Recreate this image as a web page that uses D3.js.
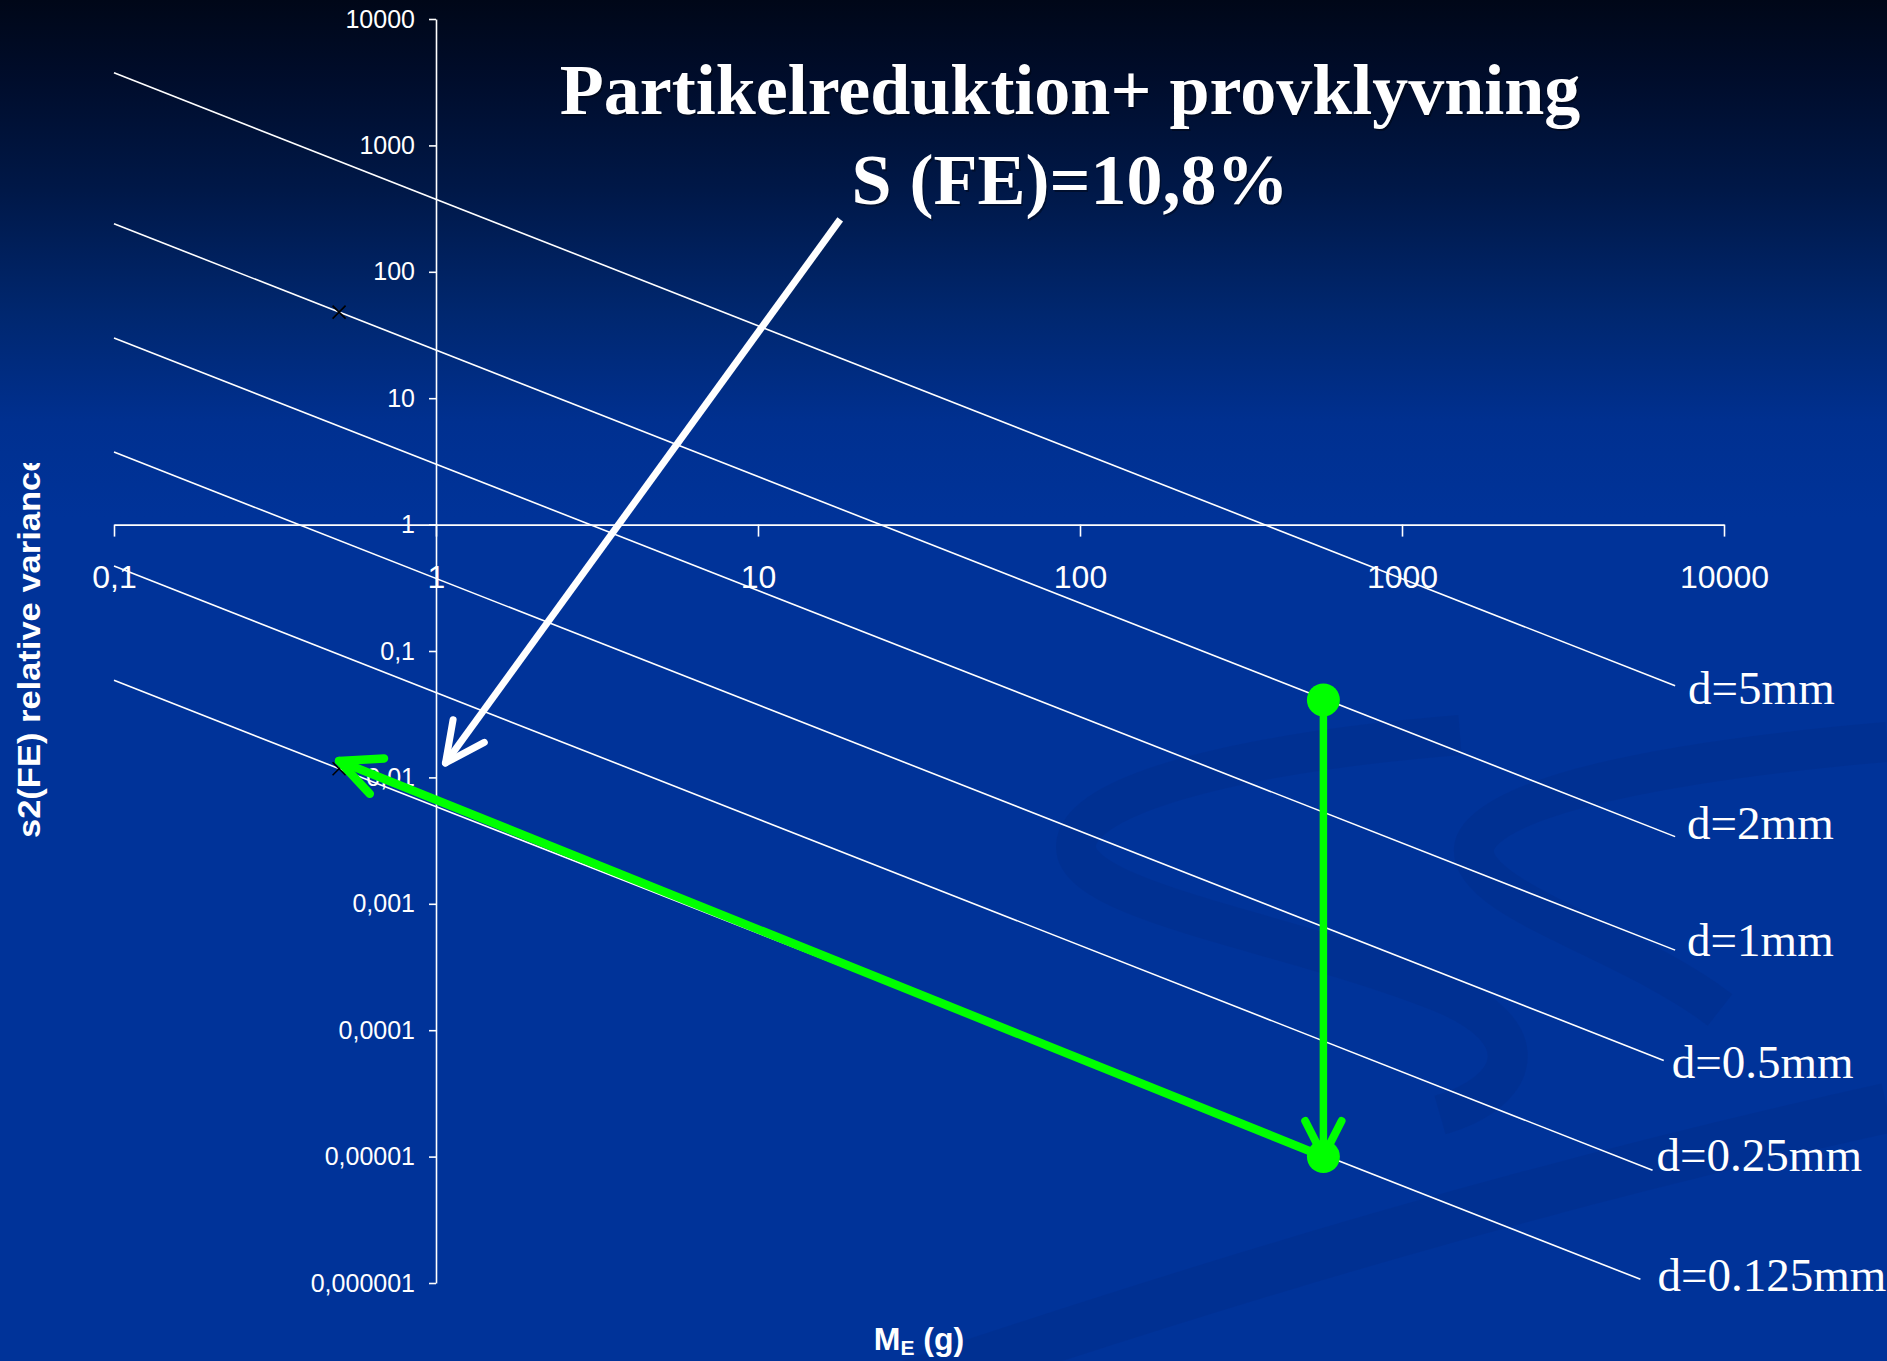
<!DOCTYPE html>
<html>
<head>
<meta charset="utf-8">
<script src="https://cdn.jsdelivr.net/npm/d3@7"></script>
<style>
  html, body { margin: 0; padding: 0; background: #003399; overflow: hidden; }
  svg { display: block; }
</style>
</head>
<body>
<script>
// Gy sampling nomogram: relative variance s2(FE) against sample mass M_E (g)
const sizeLabels    = ["d=5mm", "d=2mm", "d=1mm", "d=0.5mm", "d=0.25mm", "d=0.125mm"];
const massStart     = [0.1, 0.1, 0.1, 0.1, 0.1, 0.1];
const varianceStart = [3750, 240, 30, 3.75, 0.47, 0.0586];
const massEnd       = [7050, 7050, 7050, 6500, 6000, 5500];
const varianceEnd   = [0.053, 0.0034, 0.00043, 0.0000577, 0.0000078, 0.00000107];

const xTicks      = [0.1, 1, 10, 100, 1000, 10000];
const xTickLabels = ["0,1", "1", "10", "100", "1000", "10000"];
const yTicks      = [1e-6, 1e-5, 1e-4, 1e-3, 1e-2, 1e-1, 1, 10, 100, 1000, 10000];
const yTickLabels = ["0,000001", "0,00001", "0,0001", "0,001", "0,01", "0,1", "1", "10", "100", "1000", "10000"];

// Sampling route: crushing at constant mass, then splitting down to 0.5 g
const routeMass     = [570, 570, 0.5];
const routeVariance = [0.041, 0.00001, 0.0135];
const markerMass     = [0.5, 0.5];
const markerVariance = [48, 0.0117];
// Pointer from the title towards the final variance
const pointerMass     = [18, 1.07];
const pointerVariance = [260, 0.013];

// label placement relative to each line's end
const labelDx = [13, 12, 12, 8, 4, 17];
const labelDy = [18, 2, 6, 18, 1, 12];

const W = 1887, H = 1361;
const svg = d3.select("body").append("svg").attr("width", W).attr("height", H);
const defs = svg.append("defs");

const bg = defs.append("linearGradient").attr("id", "bg")
  .attr("gradientUnits", "userSpaceOnUse").attr("x1", 0).attr("y1", 0).attr("x2", 0).attr("y2", H);
[[0, "#000718"], [0.06, "#000d2c"], [0.14, "#001848"], [0.23, "#00276f"], [0.31, "#003090"], [0.38, "#003399"], [1, "#003399"]]
  .forEach(([o, c]) => bg.append("stop").attr("offset", o).attr("stop-color", c));
svg.append("rect").attr("width", W).attr("height", H).attr("fill", "url(#bg)");

// template swooshes in the lower right
const sw = svg.append("g").attr("fill", "none").attr("stroke", "#002a86").attr("stroke-opacity", 0.3);
sw.append("path").attr("stroke-width", 40)
  .attr("d", "M1460,735 C1250,752 1078,792 1076,846 C1074,902 1290,932 1440,992 C1540,1032 1520,1092 1440,1115");
sw.append("path").attr("stroke-width", 40)
  .attr("d", "M1887,742 C1700,758 1482,792 1474,848 C1468,900 1630,940 1720,1010");
sw.append("path").attr("stroke-width", 50)
  .attr("d", "M880,1395 C1250,1270 1560,1180 1887,1108");

const x = d3.scaleLog().domain([0.1, 10000]).range([114, 1724]);
const y = d3.scaleLog().domain([1e-6, 10000]).range([1283, 19]);

// size-class lines
const lines = svg.append("g");
sizeLabels.forEach((lab, i) => {
  lines.append("line")
    .attr("x1", x(massStart[i])).attr("y1", y(varianceStart[i]))
    .attr("x2", x(massEnd[i])).attr("y2", y(varianceEnd[i]))
    .attr("stroke", "#ffffff").attr("stroke-width", 1.6);
  svg.append("text")
    .attr("x", x(massEnd[i]) + labelDx[i]).attr("y", y(varianceEnd[i]) + labelDy[i])
    .attr("font-family", "Liberation Serif, serif").attr("font-size", 47)
    .attr("fill", "#ffffff").text(lab);
});

// axes crossing at (1, 1)
const yAxis = d3.axisLeft(y).tickValues(yTicks).tickFormat((d, i) => yTickLabels[i])
  .tickSize(7).tickSizeOuter(0).tickPadding(14);
const xAxis = d3.axisBottom(x).tickValues(xTicks).tickFormat((d, i) => xTickLabels[i])
  .tickSize(12).tickSizeOuter(0).tickPadding(29);

const gy = svg.append("g").attr("transform", `translate(${x(1)},0)`).call(yAxis);
gy.selectAll("text").attr("font-family", "Liberation Sans, Arial, sans-serif").attr("font-size", 25).attr("fill", "#ffffff");
const gx = svg.append("g").attr("transform", `translate(0,${y(1)})`).call(xAxis);
gx.selectAll("text").attr("font-family", "Liberation Sans, Arial, sans-serif").attr("font-size", 32).attr("fill", "#ffffff");
svg.selectAll(".domain, .tick line").attr("stroke", "#ffffff").attr("stroke-width", 1.6);

// axis titles
defs.append("clipPath").attr("id", "ytclip").append("rect")
  .attr("x", 0).attr("y", 463).attr("width", 90).attr("height", 500);
svg.append("g").attr("clip-path", "url(#ytclip)")
  .append("text")
  .attr("transform", "translate(40,838) rotate(-90) scale(1,0.9)")
  .attr("font-family", "Liberation Sans, Arial, sans-serif").attr("font-weight", "bold")
  .attr("font-size", 34.5).attr("fill", "#ffffff")
  .text("s2(FE) relative variance");

const xt = svg.append("text").attr("x", (x(0.1) + x(10000)) / 2).attr("y", 1350)
  .attr("text-anchor", "middle")
  .attr("font-family", "Liberation Sans, Arial, sans-serif").attr("font-weight", "bold")
  .attr("font-size", 32).attr("fill", "#ffffff");
xt.append("tspan").text("M");
xt.append("tspan").attr("font-size", 21).attr("dy", 5).text("E");
xt.append("tspan").attr("dy", -5).text(" (g)");

// data point markers
markerMass.forEach((m, i) => {
  const cx = x(m), cy = y(markerVariance[i]), s = 6.5;
  svg.append("path").attr("d", `M${cx - s},${cy - s}L${cx + s},${cy + s}M${cx - s},${cy + s}L${cx + s},${cy - s}`)
    .attr("stroke", "#000000").attr("stroke-width", 1.6);
});

// open arrowhead drawn as two strokes meeting at the tip
function arrowHead(g, tip, tail, len, ang, color, w) {
  const dir = Math.atan2(tail[1] - tip[1], tail[0] - tip[0]);
  [-1, 1].forEach(s => {
    g.append("line").attr("x1", tip[0]).attr("y1", tip[1])
      .attr("x2", tip[0] + len * Math.cos(dir + s * ang))
      .attr("y2", tip[1] + len * Math.sin(dir + s * ang))
      .attr("stroke", color).attr("stroke-width", w).attr("stroke-linecap", "round");
  });
}

// white pointer
const wp = svg.append("g");
const pFrom = [x(pointerMass[0]), y(pointerVariance[0])];
const pTo = [x(pointerMass[1]), y(pointerVariance[1])];
wp.append("line").attr("x1", pFrom[0]).attr("y1", pFrom[1]).attr("x2", pTo[0]).attr("y2", pTo[1])
  .attr("stroke", "#ffffff").attr("stroke-width", 7);
arrowHead(wp, pTo, pFrom, 44, 26 * Math.PI / 180, "#ffffff", 7);

// title
const title = svg.append("g").attr("font-family", "Liberation Serif, Times New Roman, serif")
  .attr("font-weight", "bold").attr("font-size", 72).attr("text-anchor", "middle");
[["Partikelreduktion+ provklyvning", 114], ["S (FE)=10,8%", 204]].forEach(([t, by]) => {
  title.append("text").attr("x", 1071.5).attr("y", by + 1.5).attr("fill", "#000000").attr("fill-opacity", 0.35).text(t);
  title.append("text").attr("x", 1070).attr("y", by).attr("fill", "#ffffff").text(t);
});

// green sampling route
const gr = svg.append("g");
const P = routeMass.map((m, i) => [x(m), y(routeVariance[i])]);
gr.append("line").attr("x1", P[1][0]).attr("y1", P[1][1]).attr("x2", P[2][0]).attr("y2", P[2][1])
  .attr("stroke", "#00ff00").attr("stroke-width", 8.5);
arrowHead(gr, P[2], P[1], 45, 25 * Math.PI / 180, "#00ff00", 8.5);
gr.append("line").attr("x1", P[0][0]).attr("y1", P[0][1]).attr("x2", P[1][0]).attr("y2", P[1][1])
  .attr("stroke", "#00ff00").attr("stroke-width", 7.5);
arrowHead(gr, P[1], P[0], 40, 27 * Math.PI / 180, "#00ff00", 8);
[P[0], P[1]].forEach(p => gr.append("circle").attr("cx", p[0]).attr("cy", p[1]).attr("r", 16.5).attr("fill", "#00ff00"));
</script>
</body>
</html>
